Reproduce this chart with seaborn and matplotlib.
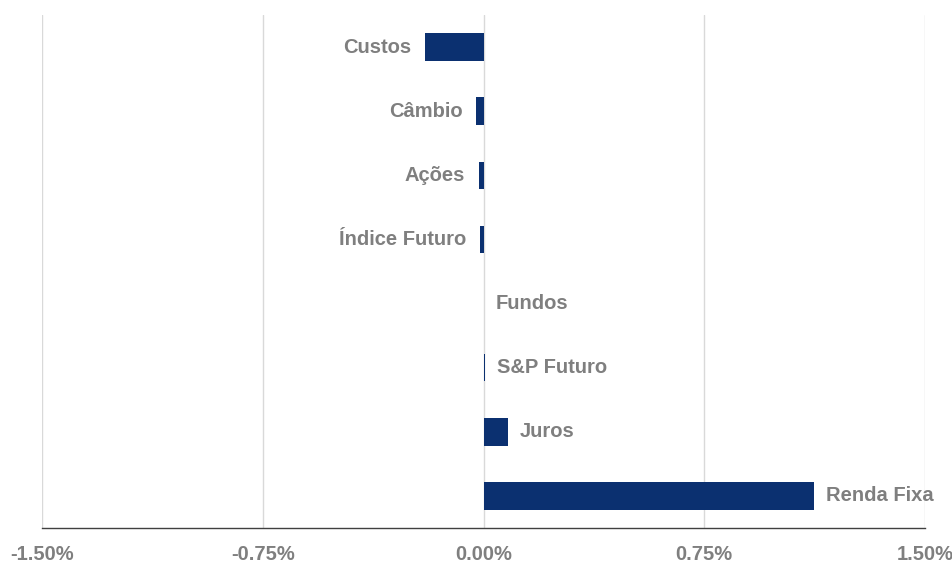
import matplotlib
matplotlib.use("Agg")
import matplotlib.pyplot as plt
import seaborn as sns
import pandas as pd
from matplotlib.ticker import FuncFormatter

# Attribution by strategy (% contribution)
categories = ["Custos", "Câmbio", "Ações", "Índice Futuro", "Fundos",
              "S&P Futuro", "Juros", "Renda Fixa"]
values = [-0.200, -0.024, -0.015, -0.011, 0.0, 0.006, 0.083, 1.124]
tick_values = [-1.50, -0.75, 0.00, 0.75, 1.50]

df = pd.DataFrame({"categoria": categories, "valor": values})

sns.set_theme(style="white")
plt.rcParams["font.family"] = ["Liberation Sans", "DejaVu Sans"]

bar_color = "#0B3070"
text_color = "#7F7F7F"
font_size = 14.5

fig = plt.figure(figsize=(9.53, 5.62), dpi=100)
ax = fig.add_axes([0.0441, 0.0605, 0.9265, 0.9128])

sns.barplot(data=df, y="categoria", x="valor", order=categories,
            color=bar_color, width=0.43, saturation=1, linewidth=0,
            edgecolor=bar_color, ax=ax, zorder=3)

ax.set_xlim(tick_values[0], tick_values[-1])
ax.set_ylim(len(categories) - 0.5, -0.5)
ax.set_xticks(tick_values)
ax.xaxis.set_major_formatter(FuncFormatter(lambda v, _: f"{v:.2f}%"))
ax.grid(axis="x", color="#D9D9D9", linewidth=1, zorder=0)
ax.grid(axis="y", visible=False)
ax.set_yticks([])
ax.set_xlabel("")
ax.set_ylabel("")

for side in ("left", "right", "top"):
    ax.spines[side].set_visible(False)
ax.spines["bottom"].set_color("#404040")
ax.spines["bottom"].set_linewidth(1)
ax.tick_params(axis="x", direction="out", length=5, width=1, color="#404040",
               labelsize=font_size, labelcolor=text_color, pad=7)
for lbl in ax.get_xticklabels():
    lbl.set_fontweight("bold")

# Category names placed next to the end of each bar
for i, (cat, val) in enumerate(zip(categories, values)):
    if val < 0:
        ax.annotate(cat, xy=(val, i), xytext=(-10, 0), textcoords="offset points",
                    ha="right", va="center", fontsize=font_size, fontweight="bold",
                    color=text_color)
    else:
        ax.annotate(cat, xy=(val, i), xytext=(8.5, 0), textcoords="offset points",
                    ha="left", va="center", fontsize=font_size, fontweight="bold",
                    color=text_color)

fig.savefig("out.png", dpi=100)
